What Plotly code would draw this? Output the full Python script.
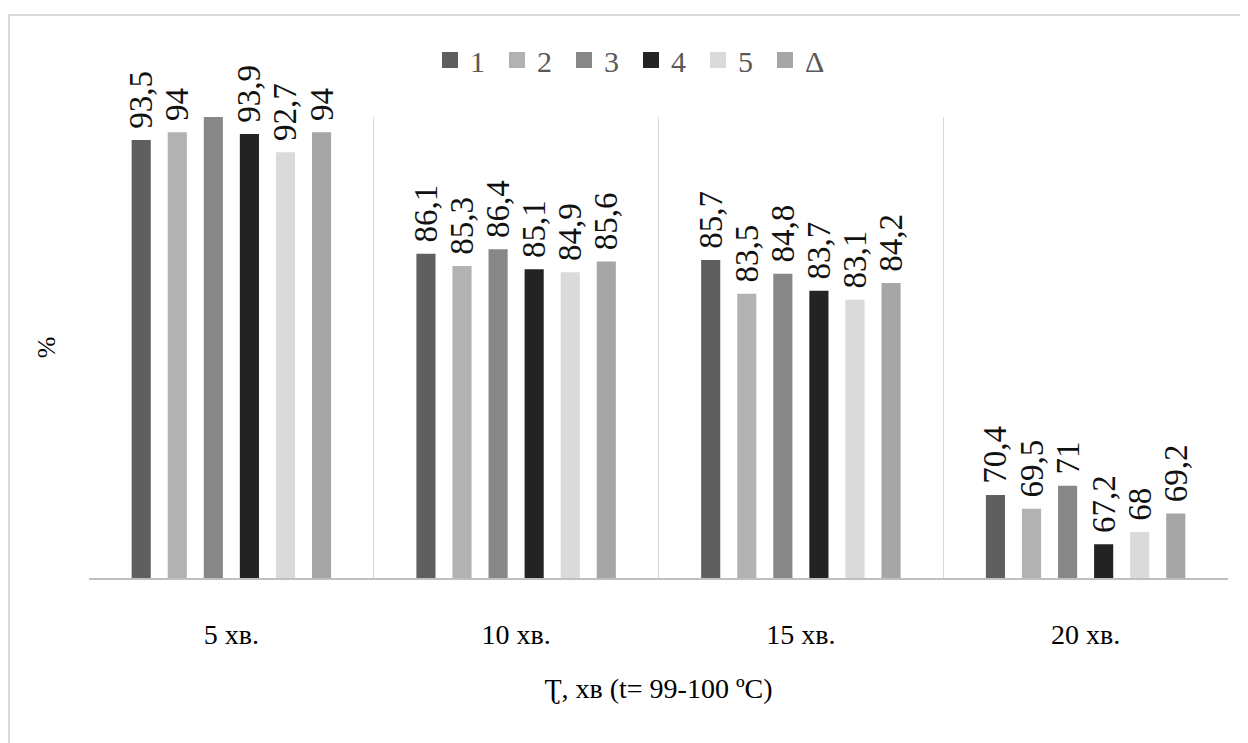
import plotly.graph_objects as go

categories = ["5 хв.", "10 хв.", "15 хв.", "20 хв."]
series_names = ["1", "2", "3", "4", "5", "Δ"]
s1 = [93.5, 86.1, 85.7, 70.4]
s2 = [94, 85.3, 83.5, 69.5]
s3 = [95.3, 86.4, 84.8, 71]
s4 = [93.9, 85.1, 83.7, 67.2]
s5 = [92.7, 84.9, 83.1, 68]
s6 = [94, 85.6, 84.2, 69.2]
all_series = [s1, s2, s3, s4, s5, s6]
colors = ["#5f5f5f", "#b2b2b2", "#878787", "#232323", "#dadada", "#a6a6a6"]

def fmt(v):
    # leading no-break space gives the small gap between bar and label
    return "\u00a0" + ("%g" % v).replace(".", ",")

SERIF = "Liberation Serif"

fig = go.Figure()
for name, vals, col in zip(series_names, all_series, colors):
    # series 3 exceeds the axis max in the first group: clipped like the reference
    clip = (name == "3")
    fig.add_trace(go.Bar(
        x=categories, y=vals, name=name, legendgroup=name, showlegend=False,
        marker=dict(color=col, line=dict(width=0)),
        text=[fmt(v) for v in vals],
        textposition="outside", textangle=-90,
        constraintext="none",
        cliponaxis=clip,
        textfont=dict(family=SERIF, size=33, color="#111111"),
        hoverinfo="x+y",
    ))
# legend entries with larger square keys
for name, col in zip(series_names, colors):
    fig.add_trace(go.Scatter(
        x=[None], y=[None], mode="markers", name=name, legendgroup=name,
        marker=dict(symbol="square", size=16, color=col),
        showlegend=True, hoverinfo="skip",
    ))

# page has an 8px body margin: figure is offset by 8px
OFF = 8
W, H = 1248 - OFF, 743 - OFF
L, T = 89 - OFF, 117 - OFF
R = W - (1228 - OFF)
B = H - (578 - OFF)
pw, ph = W - L - R, H - T - B

def px2paper_x(px):
    return (px - OFF - L) / pw

def px2paper_y(py):
    return 1 - (py - OFF - T) / ph

fig.update_layout(
    width=W, height=H,
    margin=dict(l=L, r=R, t=T, b=B, pad=0),
    paper_bgcolor="white", plot_bgcolor="white",
    barmode="group", bargap=0.24, bargroupgap=0.47,
    font=dict(family=SERIF, color="#000000"),
    showlegend=True,
    legend=dict(
        orientation="h", x=px2paper_x(631), xanchor="center",
        y=px2paper_y(60), yanchor="middle",
        font=dict(family=SERIF, size=30, color="#595959"),
        itemwidth=30, entrywidth=22, traceorder="normal",
        itemsizing="trace",
        bgcolor="rgba(0,0,0,0)",
    ),
    xaxis=dict(
        type="category", tickson="boundaries",
        showgrid=True, gridcolor="#d9d9d9", gridwidth=1,
        showline=True, linecolor="#bfbfbf", linewidth=2,
        ticks="", ticklabelstandoff=30,
        tickfont=dict(family=SERIF, size=28, color="#000000"),
        title=dict(text="Ʈ, хв (t= 99-100 ºC)", standoff=30,
                   font=dict(family=SERIF, size=28, color="#000000")),
    ),
    yaxis=dict(
        range=[65, 95], showticklabels=False, showgrid=False,
        zeroline=False, showline=False, ticks="",
        title=dict(text="%", standoff=24,
                   font=dict(family=SERIF, size=26, color="#000000")),
    ),
    shapes=[dict(
        type="rect", xref="paper", yref="paper",
        x0=px2paper_x(9), x1=px2paper_x(1262),
        y0=px2paper_y(760), y1=px2paper_y(15),
        line=dict(color="#d9d9d9", width=2), layer="below",
    )],
)

fig.write_html("out.html")
